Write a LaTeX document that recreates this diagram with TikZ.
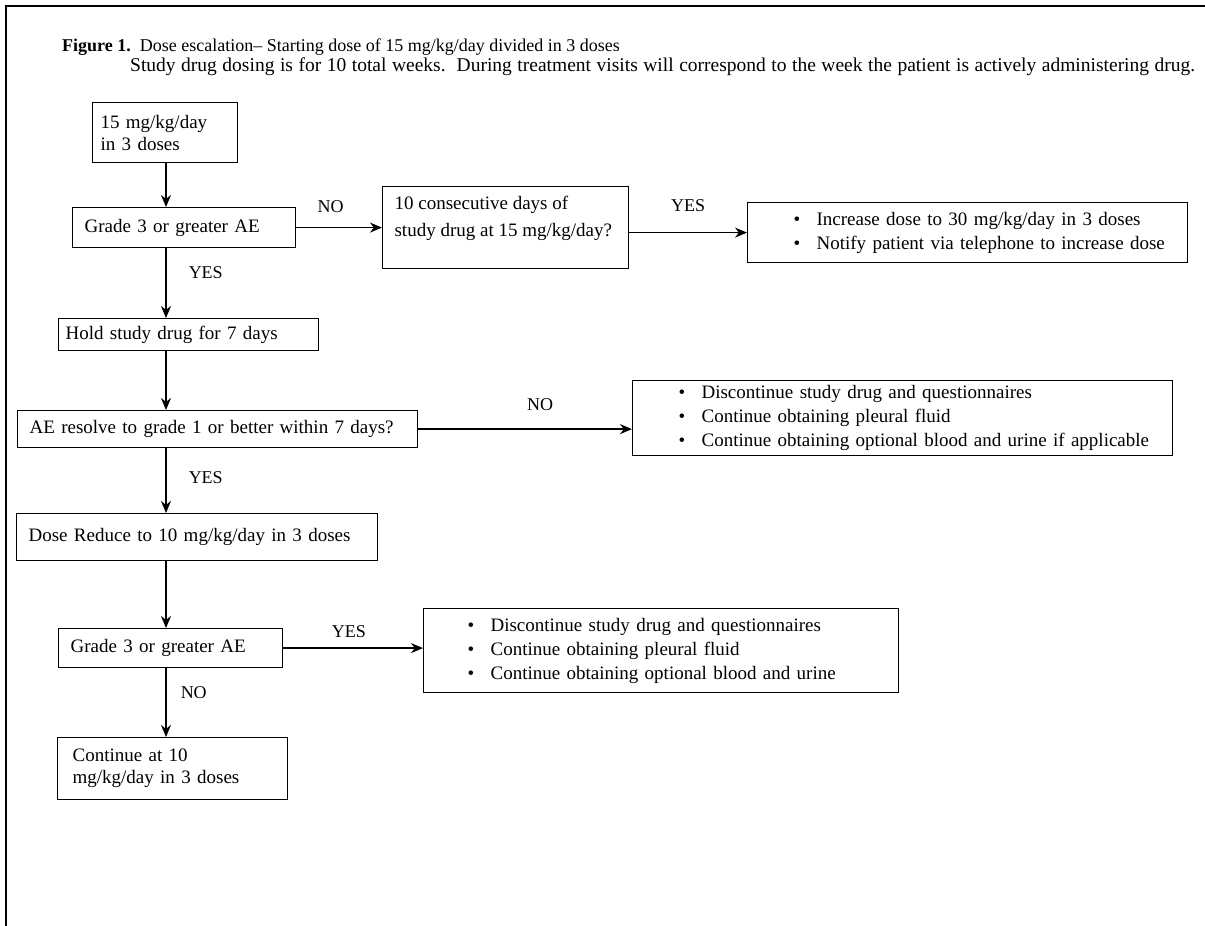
\documentclass[tikz,border=0pt]{standalone}
\usepackage{fontspec}
\setmainfont{Liberation Serif}
\usetikzlibrary{arrows.meta, positioning}
\newcommand{\bitem}{\makebox[23pt][l]{\textbullet}}
\tikzset{
    box/.style={rectangle, draw=black, line width=1.2pt, anchor=north west,
                align=left, inner xsep=12pt, inner ysep=0pt,
                font=\fontsize{19}{22}\selectfont},
    listbox/.style={box, inner xsep=0pt, font=\fontsize{19}{24}\selectfont},
    yesno/.style={font=\fontsize{18}{20}\selectfont, inner sep=0pt},
    arr/.style={-{Stealth[length=12pt, width=10pt]}, line width=1.5pt},
    frame/.style={line width=1.6pt},
}

\begin{document}
\begin{tikzpicture}[x=1pt, y=-1pt]
  \useasboundingbox (0,0) rectangle (1205,926);
  \draw[frame] (6,926) -- (6,6) -- (1205,6);

  % heading
  \node[anchor=base west, inner sep=0pt, font=\fontsize{18}{21}\selectfont] (title) at (62,51)
       {\textbf{Figure 1.}\ \ Dose escalation-- Starting dose of 15 mg/kg/day divided in 3 doses};
  \node[anchor=base west, inner sep=0pt, font=\fontsize{19.5}{21}\selectfont] (note) at (130,71)
       {\makebox[1065pt][s]{Study drug dosing is for 10 total weeks.\ \ During treatment visits will correspond to the week the patient is actively administering drug.}};

  % main column
  \node[box, text width=129pt, inner xsep=8pt, minimum height=60pt] (start) at (92,102)
       {15 mg/kg/day\\in 3 doses};
  \node[box, text width=199pt, minimum height=40pt] (ae1) at (72,207) {Grade 3 or greater AE};
  \node[box, text width=246pt, inner xsep=7pt, minimum height=32pt] (hold) at (58,318) {Hold study drug for 7 days};
  \node[box, text width=376pt, minimum height=37pt] (ae2) at (17,410) {AE resolve to grade 1 or better within 7 days?};
  \node[box, text width=337pt, minimum height=47pt] (dose10) at (16,513) {Dose Reduce to 10 mg/kg/day in 3 doses};
  \node[box, text width=200pt, minimum height=39pt] (ae3) at (58,628) {Grade 3 or greater AE};
  \node[box, text width=200pt, inner xsep=15pt, minimum height=62pt] (cont) at (57,737)
       {Continue at 10\\mg/kg/day in 3 doses};

  % branches
  \node[box, minimum height=82pt] (days) at (382,186)
       {\parbox[c][62pt][t]{222pt}{\raggedright\fontsize{19}{27}\selectfont
        10 consecutive days of\\study drug at 15 mg/kg/day?}};
  \node[listbox, text width=440pt, minimum height=60pt] (incr) at (747,202)
       {\hspace*{46pt}\bitem Increase dose to 30 mg/kg/day in 3 doses\\
        \hspace*{46pt}\bitem Notify patient via telephone to increase dose};
  \node[listbox, text width=540pt, minimum height=75pt] (stop1) at (632,380)
       {\hspace*{46pt}\bitem Discontinue study drug and questionnaires\\
        \hspace*{46pt}\bitem Continue obtaining pleural fluid\\
        \hspace*{46pt}\bitem Continue obtaining optional blood and urine if applicable};
  \node[listbox, text width=475pt, minimum height=84pt] (stop2) at (423,608)
       {\hspace*{44pt}\bitem Discontinue study drug and questionnaires\\
        \hspace*{44pt}\bitem Continue obtaining pleural fluid\\
        \hspace*{44pt}\bitem Continue obtaining optional blood and urine};

  \coordinate (spine) at (166,0);

  \draw[arr] (spine |- start.south) -- (spine |- ae1.north);
  \draw[arr] (spine |- ae1.south) -- node[yesno, right=22pt, pos=0.35] {YES} (spine |- hold.north);
  \draw[arr] (spine |- hold.south) -- (spine |- ae2.north);
  \draw[arr] (spine |- ae2.south) -- node[yesno, right=22pt, pos=0.45] {YES} (spine |- dose10.north);
  \draw[arr] (spine |- dose10.south) -- (spine |- ae3.north);
  \draw[arr] (spine |- ae3.south) -- node[yesno, right=14pt, pos=0.36] {NO} (spine |- cont.north);

  \draw[arr] (ae1.east) -- node[yesno, above=14pt, pos=0.4] {NO} (ae1.east -| days.west);
  \draw[arr] (days.east |- incr.west) -- node[yesno, above=20pt] {YES} (incr.west);
  \draw[arr] (ae2.east) -- node[yesno, above=18pt, pos=0.57] {NO} (ae2.east -| stop1.west);
  \draw[arr] (ae3.east) -- node[yesno, above=10pt, pos=0.47] {YES} (ae3.east -| stop2.west);
\end{tikzpicture}
\end{document}
